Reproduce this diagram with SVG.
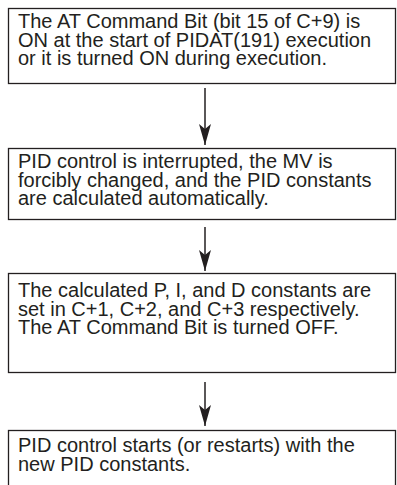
<svg xmlns="http://www.w3.org/2000/svg" width="397" height="485" viewBox="0 0 397 485">
<style>
.box{fill:#fff;stroke:#231f20;stroke-width:1.3}
.t{font-family:"Liberation Sans",Arial,Helvetica,sans-serif;font-size:20px;fill:#231f20}
.c{stroke:#231f20;stroke-width:1.5;fill:none}
</style>
<defs>
<marker id="ah" markerUnits="userSpaceOnUse" markerWidth="14" markerHeight="22" refX="6" refY="20" orient="auto" viewBox="0 0 12 22">
<path d="M0,0 L6,5 L12,0 L6,20 Z" fill="#231f20" transform="rotate(0)"/>
</marker>
</defs>
<rect width="397" height="485" fill="#fff"/>
<g id="connectors">
<path class="c" d="M205,88 V145"/>
<path d="M199,124 L205,129 L211,124 L205,145 Z" fill="#231f20"/>
<path class="c" d="M205,227 V271"/>
<path d="M199,250 L205,255 L211,250 L205,271 Z" fill="#231f20"/>
<path class="c" d="M205,382 V426"/>
<path d="M199,405 L205,410 L211,405 L205,426 Z" fill="#231f20"/>
</g>
<g id="node1">
<rect class="box" x="8.5" y="8.5" width="387" height="75"/>
<text class="t" x="18" y="28">The AT Command Bit (bit 15 of C+9) is</text>
<text class="t" x="18" y="46.5">ON at the start of PIDAT(191) execution</text>
<text class="t" x="18" y="65">or it is turned ON during execution.</text>
</g>
<g id="node2">
<rect class="box" x="8.5" y="148.5" width="387" height="71"/>
<text class="t" x="18" y="168">PID control is interrupted, the MV is</text>
<text class="t" x="18" y="186.5">forcibly changed, and the PID constants</text>
<text class="t" x="18" y="205">are calculated automatically.</text>
</g>
<g id="node3">
<rect class="box" x="8.5" y="273.5" width="387" height="99"/>
<text class="t" x="18" y="297">The calculated P, I, and D constants are</text>
<text class="t" x="18" y="315.5">set in C+1, C+2, and C+3 respectively.</text>
<text class="t" x="18" y="334">The AT Command Bit is turned OFF.</text>
</g>
<g id="node4">
<rect class="box" x="8.5" y="430.5" width="387" height="60"/>
<text class="t" x="18" y="452">PID control starts (or restarts) with the</text>
<text class="t" x="18" y="471">new PID constants.</text>
</g>
</svg>
